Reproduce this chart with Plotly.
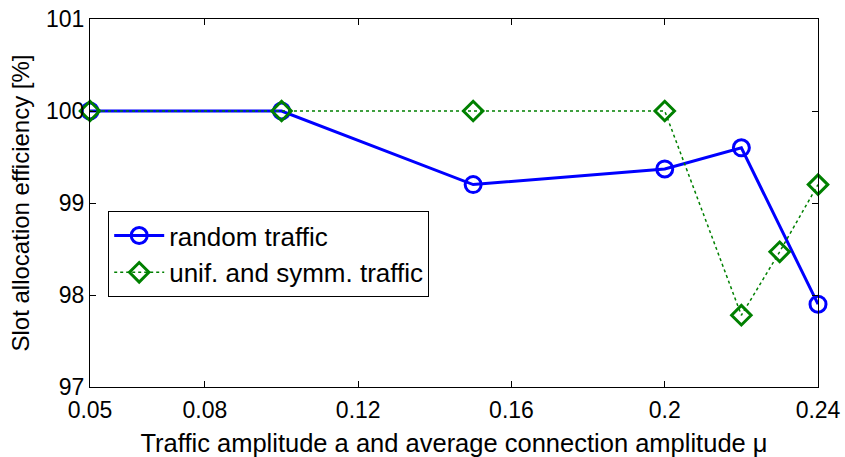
import plotly.graph_objects as go

# Traffic amplitude values and measured slot allocation efficiency
x_random = [0.05, 0.10, 0.15, 0.20, 0.22, 0.24]
y_random = [100.0, 100.0, 99.2, 99.37, 99.6, 97.9]

x_unif = [0.05, 0.10, 0.15, 0.20, 0.22, 0.23, 0.24]
y_unif = [100.0, 100.0, 100.0, 100.0, 97.78, 98.47, 99.2]

x_ticks = [0.05, 0.08, 0.12, 0.16, 0.2, 0.24]
x_ticktext = ["0.05", "0.08", "0.12", "0.16", "0.2", "0.24"]
y_ticks = [97, 98, 99, 100, 101]

FONT = "Liberation Sans, Arial, sans-serif"

fig = go.Figure()
fig.add_trace(go.Scatter(
    x=x_random, y=y_random, name="random traffic", mode="lines+markers",
    line=dict(color="#0000ff", width=3),
    marker=dict(symbol="circle-open", size=16, color="#0000ff", line=dict(width=3)),
    cliponaxis=False,
))
fig.add_trace(go.Scatter(
    x=x_unif, y=y_unif, name="unif. and symm. traffic", mode="lines+markers",
    line=dict(color="#008000", width=1.5, dash="dot"),
    marker=dict(symbol="diamond-open", size=15, color="#008000", line=dict(width=3)),
    cliponaxis=False,
))

axis_common = dict(
    showline=True, linecolor="black", linewidth=1, mirror="ticks",
    ticks="inside", ticklen=6, tickcolor="black", showgrid=False, zeroline=False,
    tickfont=dict(family=FONT, size=23, color="black"),
)

fig.update_layout(
    width=845, height=457,
    margin=dict(l=90, r=27, t=19, b=70),
    paper_bgcolor="white", plot_bgcolor="white",
    font=dict(family=FONT, color="black"),
    xaxis=dict(range=[0.05, 0.24], tickvals=x_ticks, ticktext=x_ticktext,
               title=dict(text="Traffic amplitude a and average connection amplitude μ",
                          font=dict(size=25.5), standoff=15),
               ticklabelstandoff=2, automargin=False, **axis_common),
    yaxis=dict(range=[97, 101], tickvals=y_ticks,
               title=dict(text="Slot allocation efficiency [%]", font=dict(size=24), standoff=9),
               automargin=False, **axis_common),
    legend=dict(x=0.025, y=0.478, xanchor="left", yanchor="top",
                bgcolor="white", bordercolor="black", borderwidth=1,
                font=dict(size=26), tracegroupgap=0, itemwidth=50),
    showlegend=True,
)

fig.write_html("out.html")
